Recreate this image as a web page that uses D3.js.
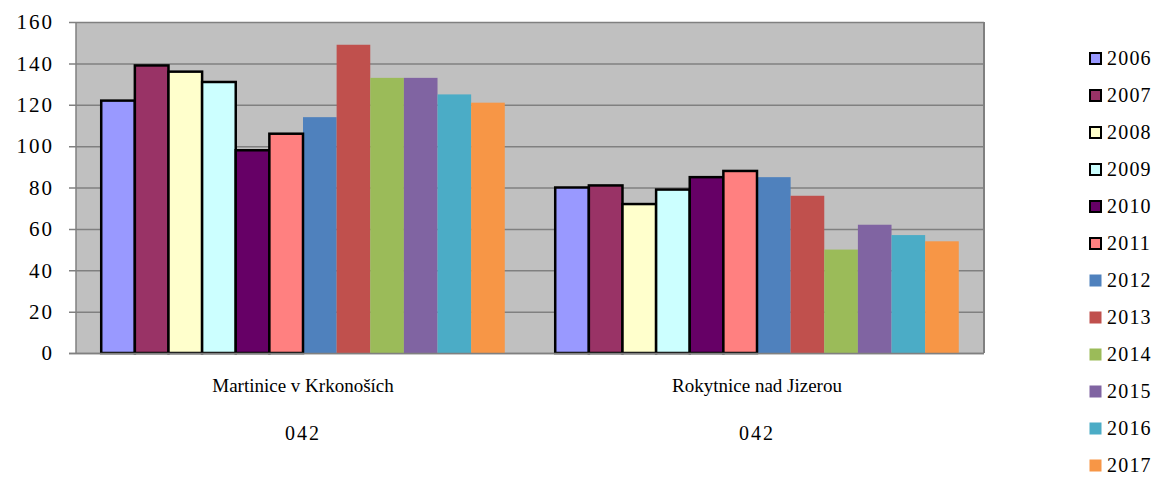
<!DOCTYPE html>
<html>
<head>
<meta charset="utf-8">
<script src="https://d3js.org/d3.v7.min.js"></script>
<style>
body { margin: 0; background: #fff; }
</style>
</head>
<body>
<script>
// chart data
var places = ["Martinice v Krkonoších", "Rokytnice nad Jizerou"];
var codes = ["042", "042"];
var years = ["2006", "2007", "2008", "2009", "2010", "2011", "2012", "2013", "2014", "2015", "2016", "2017"];
var martinice = [122, 139, 136, 131, 98, 106, 114, 149, 133, 133, 125, 121];
var rokytnice = [80, 81, 72, 79, 85, 88, 85, 76, 50, 62, 57, 54];
var yTicks = [0, 20, 40, 60, 80, 100, 120, 140, 160];
var colors = ["#9999FF", "#993366", "#FFFFCC", "#CCFFFF", "#660066", "#FF8080",
              "#4F81BD", "#C0504D", "#9BBB59", "#8064A2", "#4BACC6", "#F79646"];
var outlined = [true, true, true, true, true, true, false, false, false, false, false, false];

var values = [martinice, rokytnice];

var width = 1160, height = 477;
var plotLeft = 76, plotRight = 984, plotTop = 22, plotBottom = 353;

var svg = d3.select("body").append("svg")
  .attr("width", width)
  .attr("height", height);

var x0 = d3.scaleBand().domain(places).range([plotLeft, plotRight]).paddingInner(0).paddingOuter(0);
// gap of 150% of a bar width
var inner = 12 / (12 + 1.5);
var x1 = d3.scaleBand().domain(years)
  .range([0, x0.bandwidth() * inner]);
var y = d3.scaleLinear().domain([0, 160]).range([plotBottom, plotTop]);

// plot background
svg.append("rect")
  .attr("x", plotLeft).attr("y", plotTop)
  .attr("width", plotRight - plotLeft).attr("height", plotBottom - plotTop)
  .attr("fill", "#C0C0C0");

// gridlines + ticks
svg.append("g").selectAll("line").data(yTicks).enter().append("line")
  .attr("x1", plotLeft - 7).attr("x2", plotRight)
  .attr("y1", function(d) { return y(d) + 0.5; })
  .attr("y2", function(d) { return y(d) + 0.5; })
  .attr("stroke", "#808080").attr("stroke-width", 1.5);

svg.append("line")
  .attr("x1", plotRight).attr("x2", plotRight).attr("y1", plotTop).attr("y2", plotBottom)
  .attr("stroke", "#808080").attr("stroke-width", 2);

// bars
var groups = svg.append("g").selectAll("g").data(places).enter().append("g")
  .attr("transform", function(d) {
    return "translate(" + (x0(d) + x0.bandwidth() * (1 - inner) / 2) + ",0)";
  });

groups.each(function(p, gi) {
  var g = d3.select(this);
  // no-outline bars first, outlined drawn on top
  var idx = d3.range(years.length).sort(function(a, b) { return outlined[a] - outlined[b]; });
  idx.forEach(function(i) {
    var v = values[gi][i];
    g.append("rect")
      .attr("x", x1(years[i]))
      .attr("y", y(v))
      .attr("width", x1.bandwidth())
      .attr("height", y(0) - y(v))
      .attr("fill", colors[i])
      .attr("stroke", outlined[i] ? "#000" : "none")
      .attr("stroke-width", 2.5);
  });
});

// axis lines
svg.append("line")
  .attr("x1", plotLeft).attr("x2", plotLeft).attr("y1", plotTop).attr("y2", plotBottom + 1)
  .attr("stroke", "#808080").attr("stroke-width", 1.5);
svg.append("line")
  .attr("x1", plotLeft - 7).attr("x2", plotRight).attr("y1", plotBottom + 0.5).attr("y2", plotBottom + 0.5)
  .attr("stroke", "#808080").attr("stroke-width", 1.5);

// y labels
svg.append("g").selectAll("text").data(yTicks).enter().append("text")
  .attr("x", 54).attr("y", function(d) { return y(d); })
  .attr("dy", "0.35em")
  .attr("text-anchor", "end")
  .style("font-family", function() { return "serif"; })
  .style("font-size", "21px")
  .style("letter-spacing", "2px")
  .text(function(d) { return d; });

// category labels
svg.append("g").selectAll("text").data(places).enter().append("text")
  .attr("x", function(d) { return x0(d) + x0.bandwidth() / 2; })
  .attr("y", 392)
  .attr("text-anchor", "middle")
  .style("font-family", function() { return "serif"; })
  .style("font-size", "19px")
  .text(function(d) { return d; });
svg.append("g").selectAll("text").data(codes).enter().append("text")
  .attr("x", function(d, i) { return x0(places[i]) + x0.bandwidth() / 2; })
  .attr("y", 440)
  .attr("text-anchor", "middle")
  .style("font-family", function() { return "serif"; })
  .style("font-size", "20px")
  .style("letter-spacing", "2px")
  .text(function(d) { return d; });

// legend
var legend = svg.append("g").selectAll("g").data(years).enter().append("g")
  .attr("transform", function(d, i) { return "translate(1089," + (58 + i * 37) + ")"; });
legend.append("rect")
  .attr("x", function(d, i) { return outlined[i] ? 1 : 0.5; })
  .attr("y", function(d, i) { return outlined[i] ? -5 : -5.5; })
  .attr("width", function(d, i) { return outlined[i] ? 11 : 12; })
  .attr("height", function(d, i) { return outlined[i] ? 11 : 12; })
  .attr("fill", function(d, i) { return colors[i]; })
  .attr("stroke", function(d, i) { return outlined[i] ? "#000" : "none"; })
  .attr("stroke-width", 2);
legend.append("text")
  .attr("x", 18).attr("y", 0).attr("dy", "0.35em")
  .style("font-family", function() { return "serif"; })
  .style("font-size", "20px")
  .style("letter-spacing", "1.2px")
  .text(function(d) { return d; });
</script>
</body>
</html>
